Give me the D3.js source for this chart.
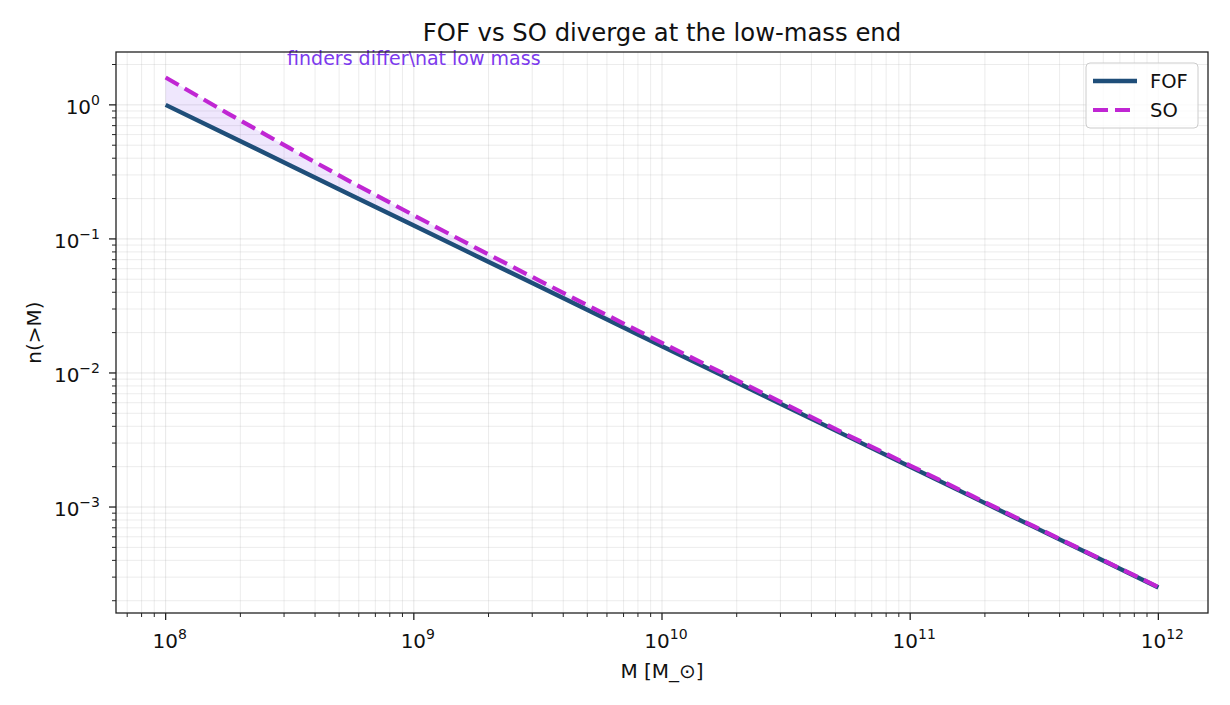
<!DOCTYPE html>
<html>
<head>
<meta charset="utf-8">
<script src="https://cdn.jsdelivr.net/npm/d3@7"></script>
<style>
  body { margin: 0; background: #fff; }
  text { font-family: "DejaVu Sans", sans-serif; }
</style>
</head>
<body>
<div id="chart"></div>
<script>
// halo mass (M_sun), quarter-decade steps
var mass = [1e8, 1.778e8, 3.162e8, 5.623e8, 1e9, 1.778e9, 3.162e9, 5.623e9,
            1e10, 1.778e10, 3.162e10, 5.623e10, 1e11, 1.778e11, 3.162e11, 5.623e11, 1e12];
// cumulative abundance n(>M)
var fof = [1.000, 0.596, 0.355, 0.211, 0.126, 0.0750, 0.0447, 0.0266,
           0.0158, 0.00944, 0.00562, 0.00335, 0.00200, 0.00119, 0.000708, 0.000422, 0.000251];
var so = [1.60, 0.864, 0.475, 0.264, 0.150, 0.0857, 0.0495, 0.0287,
          0.01675, 0.00986, 0.00581, 0.00343, 0.00204, 0.00121, 0.000716, 0.000425, 0.000253];
var seriesNames = ["FOF", "SO"];
var xTickExp = [8, 9, 10, 11, 12];
var yTickExp = [-3, -2, -1, 0];

var W = 1230, H = 705;
var margin = { top: 52, right: 22, bottom: 92, left: 116 };
var width = W - margin.left - margin.right;
var height = H - margin.top - margin.bottom;

var svg = d3.select("#chart").append("svg")
  .attr("width", W).attr("height", H);

var g = svg.append("g")
  .attr("transform", "translate(" + margin.left + "," + margin.top + ")");

// matplotlib style 5% margins in log space
var lx = d3.extent(mass).map(Math.log10);
var padX = (lx[1] - lx[0]) * 0.05;
var ly = d3.extent(fof.concat(so)).map(Math.log10);
var padY = (ly[1] - ly[0]) * 0.05;

var x = d3.scaleLog()
  .domain([Math.pow(10, lx[0] - padX), Math.pow(10, lx[1] + padX)])
  .range([0, width]);
var y = d3.scaleLog()
  .domain([Math.pow(10, ly[0] - padY), Math.pow(10, ly[1] + padY)])
  .range([height, 0]);

// minor + major tick values
function logTicks(scale) {
  var d = scale.domain();
  var out = [];
  for (var e = Math.floor(Math.log10(d[0])); e <= Math.ceil(Math.log10(d[1])); e++) {
    for (var k = 1; k < 10; k++) {
      var v = k * Math.pow(10, e);
      if (v >= d[0] && v <= d[1]) out.push({ v: v, major: k === 1, e: e });
    }
  }
  return out;
}
var xt = logTicks(x), yt = logTicks(y);

// grid
g.append("g").selectAll("line").data(xt).enter().append("line")
  .attr("x1", function(d) { return x(d.v); }).attr("x2", function(d) { return x(d.v); })
  .attr("y1", 0).attr("y2", height)
  .attr("stroke", "#b0b0b0").attr("stroke-opacity", function(d) { return d.major ? 0.4 : 0.3; })
  .attr("stroke-width", 0.8);
g.append("g").selectAll("line").data(yt).enter().append("line")
  .attr("y1", function(d) { return y(d.v); }).attr("y2", function(d) { return y(d.v); })
  .attr("x1", 0).attr("x2", width)
  .attr("stroke", "#b0b0b0").attr("stroke-opacity", function(d) { return d.major ? 0.4 : 0.3; })
  .attr("stroke-width", 0.8);

var rows = mass.map(function(m, i) { return { m: m, f: fof[i], s: so[i] }; });

// shaded gap
g.append("path").datum(rows)
  .attr("fill", "#7c3aed").attr("fill-opacity", 0.12)
  .attr("d", d3.area()
    .x(function(d) { return x(d.m); })
    .y0(function(d) { return y(d.f); })
    .y1(function(d) { return y(d.s); }));

g.append("path").datum(rows)
  .attr("fill", "none").attr("stroke", "#1f4e79").attr("stroke-width", 4.4)
  .attr("d", d3.line().x(function(d) { return x(d.m); }).y(function(d) { return y(d.f); }));

g.append("path").datum(rows)
  .attr("fill", "none").attr("stroke", "#c026d3").attr("stroke-width", 4.2)
  .attr("stroke-dasharray", "15,7")
  .attr("d", d3.line().x(function(d) { return x(d.m); }).y(function(d) { return y(d.s); }));

// annotation
g.append("text")
  .attr("x", x(1e9)).attr("y", 13)
  .attr("text-anchor", "middle")
  .attr("font-size", 19).attr("fill", "#7c3aed")
  .text("finders differ\\nat low mass");

// frame
g.append("rect").attr("width", width).attr("height", height)
  .attr("fill", "none").attr("stroke", "#222").attr("stroke-width", 1.3);

// ticks
g.append("g").selectAll("line").data(xt).enter().append("line")
  .attr("x1", function(d) { return x(d.v); }).attr("x2", function(d) { return x(d.v); })
  .attr("y1", height).attr("y2", function(d) { return height + (d.major ? 7 : 4); })
  .attr("stroke", "#222").attr("stroke-width", function(d) { return d.major ? 1.3 : 1; });
g.append("g").selectAll("line").data(yt).enter().append("line")
  .attr("y1", function(d) { return y(d.v); }).attr("y2", function(d) { return y(d.v); })
  .attr("x1", 0).attr("x2", function(d) { return d.major ? -7 : -4; })
  .attr("stroke", "#222").attr("stroke-width", function(d) { return d.major ? 1.3 : 1; });

xTickExp.forEach(function(e) {
  var t = g.append("text")
    .attr("x", x(Math.pow(10, e)) + 4).attr("y", height + 35)
    .attr("text-anchor", "middle").attr("font-size", 20).attr("fill", "#111");
  t.append("tspan").text("10");
  t.append("tspan").attr("dy", -9).attr("font-size", 14).text(e);
});
yTickExp.forEach(function(e) {
  var t = g.append("text")
    .attr("x", -16).attr("y", y(Math.pow(10, e)) + 9)
    .attr("text-anchor", "end").attr("font-size", 20).attr("fill", "#111");
  t.append("tspan").text("10");
  t.append("tspan").attr("dy", -9).attr("font-size", 14).text(e === 0 ? "0" : "\u2212" + (-e));
});

// labels
svg.append("text").attr("x", margin.left + width / 2).attr("y", 41)
  .attr("text-anchor", "middle").attr("font-size", 24.3).attr("fill", "#111")
  .text("FOF vs SO diverge at the low-mass end");
svg.append("text").attr("x", margin.left + width / 2).attr("y", 678)
  .attr("text-anchor", "middle").attr("font-size", 20).attr("fill", "#111")
  .text("M [M_\u2299]");
svg.append("text")
  .attr("transform", "translate(41," + (margin.top + height / 2) + ") rotate(-90)")
  .attr("text-anchor", "middle").attr("font-size", 20).attr("fill", "#111")
  .text("n(>M)");

// legend
var lg = g.append("g").attr("transform", "translate(" + (width - 122) + ",11)");
lg.append("rect").attr("width", 112).attr("height", 65).attr("rx", 4)
  .attr("fill", "#fff").attr("fill-opacity", 0.8).attr("stroke", "#ccc");
var styles = [{ c: "#1f4e79", dash: null, w: 4.4 }, { c: "#c026d3", dash: "15,7", w: 4.2 }];
seriesNames.forEach(function(n, i) {
  var yy = 18 + i * 29;
  lg.append("line").attr("x1", 7).attr("x2", 51).attr("y1", yy).attr("y2", yy)
    .attr("stroke", styles[i].c).attr("stroke-width", styles[i].w)
    .attr("stroke-dasharray", styles[i].dash);
  lg.append("text").attr("x", 64).attr("y", yy + 7)
    .attr("font-size", 19.5).attr("fill", "#111").text(n);
});
</script>
</body>
</html>
